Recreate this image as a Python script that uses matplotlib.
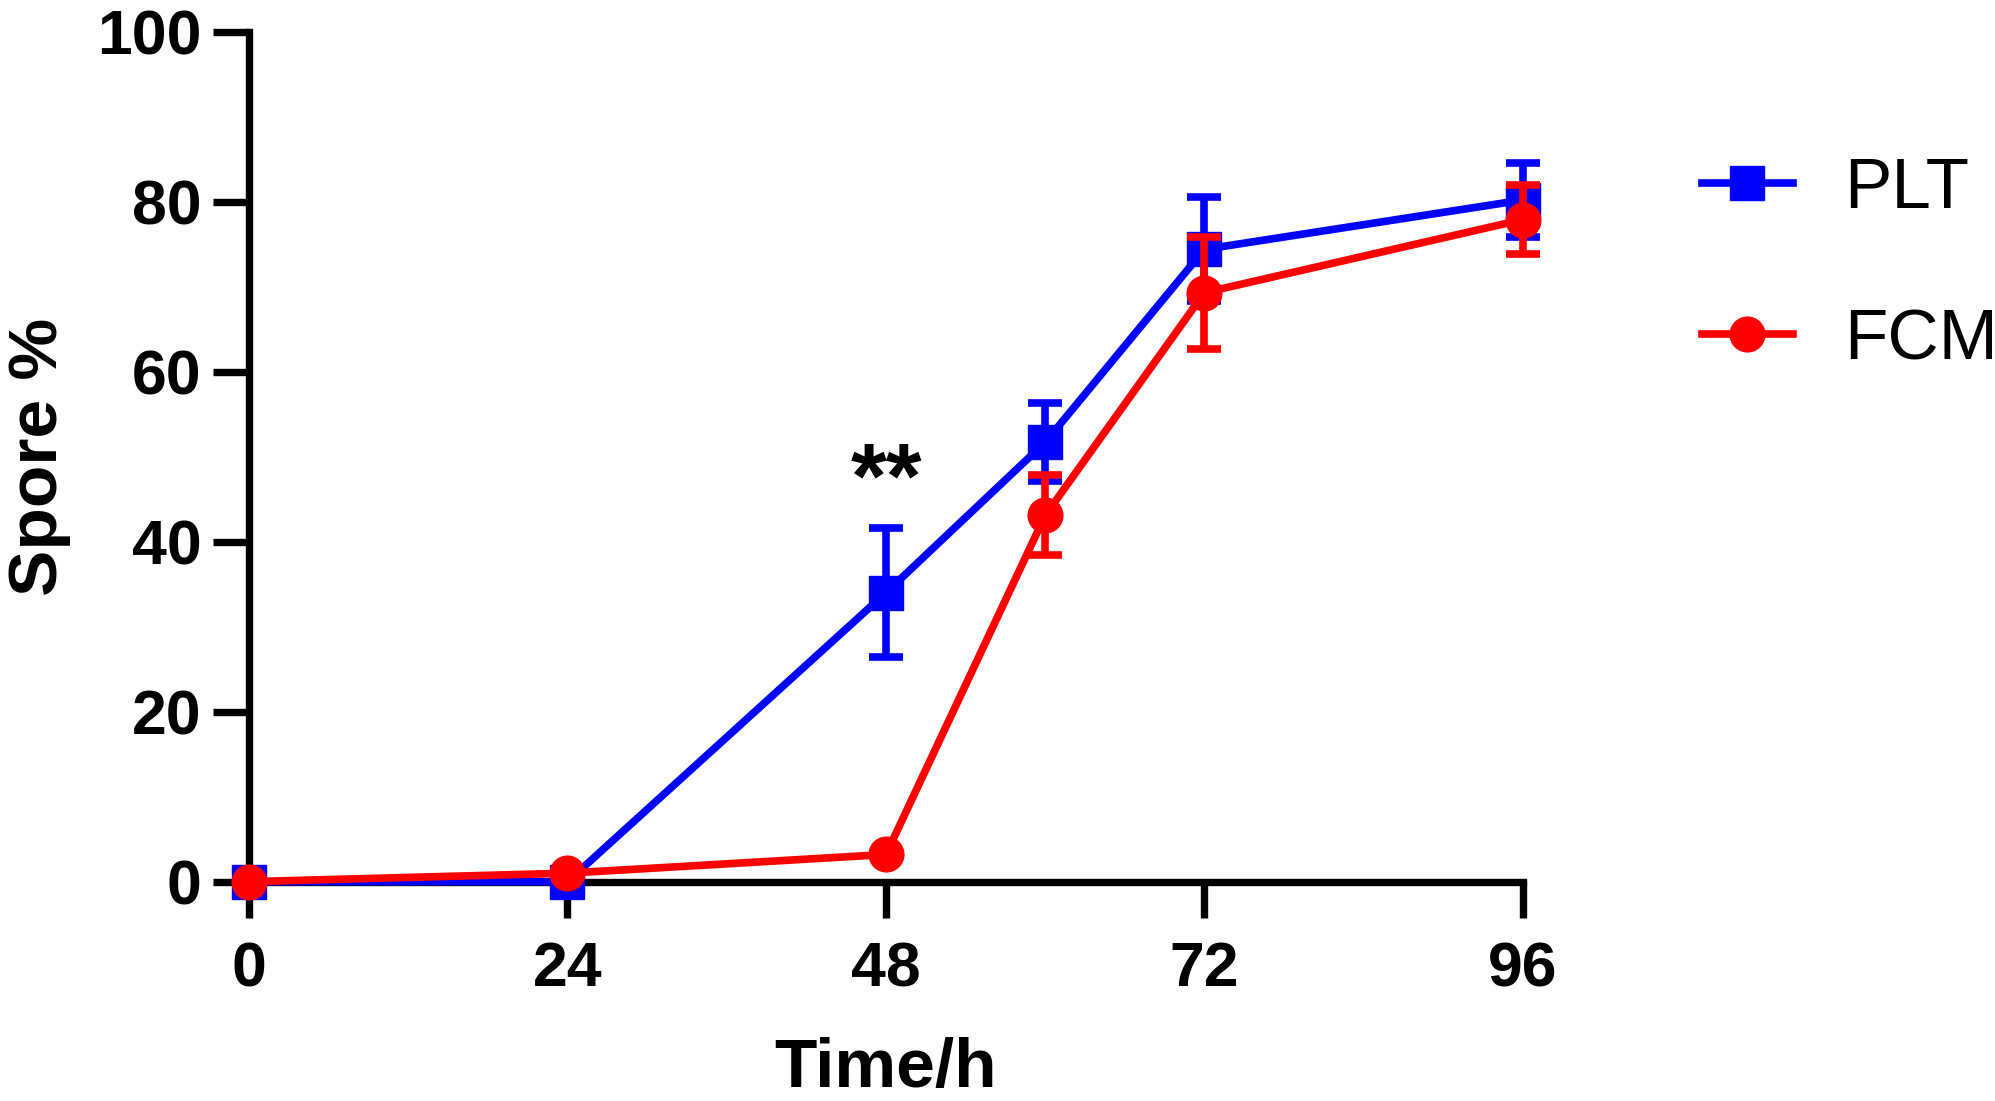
import matplotlib
matplotlib.use("Agg")
import matplotlib.pyplot as plt
from matplotlib.lines import Line2D

time_h = [0, 24, 48, 60, 72, 96]
plt_mean = [0.0, 0.0, 34.0, 51.7, 74.4, 80.2]
plt_err = [0.0, 0.0, 7.6, 4.6, 6.1, 4.3]
fcm_mean = [0.0, 1.0, 3.2, 43.1, 69.3, 77.9]
fcm_err = [0.0, 0.0, 0.0, 4.7, 6.6, 4.1]
xticks = [0, 24, 48, 72, 96]
yticks = [0, 20, 40, 60, 80, 100]
series_names = ['PLT', 'FCM']

plt.rcParams['font.family'] = ['Liberation Sans', 'DejaVu Sans']

fig = plt.figure(figsize=(19.95, 11.01), dpi=100)
ax = fig.add_axes([0.1248, 0.1992, 0.7634 - 0.1248, 0.9712 - 0.1992])

blue = '#0000ff'
red = '#ff0000'
lw = 5.5
ms = 25
ax.errorbar(time_h, plt_mean, yerr=plt_err, color=blue, lw=lw, marker='s', ms=ms,
            capsize=12, capthick=lw, elinewidth=lw, clip_on=False, zorder=3)
ax.errorbar(time_h, fcm_mean, yerr=fcm_err, color=red, lw=lw, marker='o', ms=ms,
            capsize=12, capthick=lw, elinewidth=lw, clip_on=False, zorder=4)

ax.set_xlim(0, 96)
ax.set_ylim(0, 100)
ax.set_xticks(xticks)
ax.set_yticks(yticks)
for s in ['top', 'right']:
    ax.spines[s].set_visible(False)
for s in ['left', 'bottom']:
    ax.spines[s].set_linewidth(5.3)
    ax.spines[s].set_capstyle('projecting')
ax.tick_params(axis='both', width=5.3, length=26, labelsize=45)
ax.tick_params(axis='y', pad=8)
ax.tick_params(axis='x', pad=16)
for lab in ax.get_xticklabels() + ax.get_yticklabels():
    lab.set_fontweight('bold')

ax.set_xlabel('Time/h', fontsize=50, fontweight='bold', labelpad=27)
ax.set_ylabel('Spore %', fontsize=50, fontweight='bold', labelpad=19)

ax.text(48, 46.8, '**', ha='center', va='center', fontsize=66, fontweight='bold')

handles = [
    Line2D([], [], color=blue, lw=lw, marker='s', ms=ms),
    Line2D([], [], color=red, lw=lw, marker='o', ms=ms),
]
leg = fig.legend(handles, series_names, loc='upper left',
                 bbox_to_anchor=(1702 / 1995, 1 - 157 / 1101), frameon=False,
                 fontsize=51, handlelength=1.28, handletextpad=0.72, labelspacing=1.2,
                 borderaxespad=0, borderpad=0)

fig.savefig('out.png', dpi=100)
